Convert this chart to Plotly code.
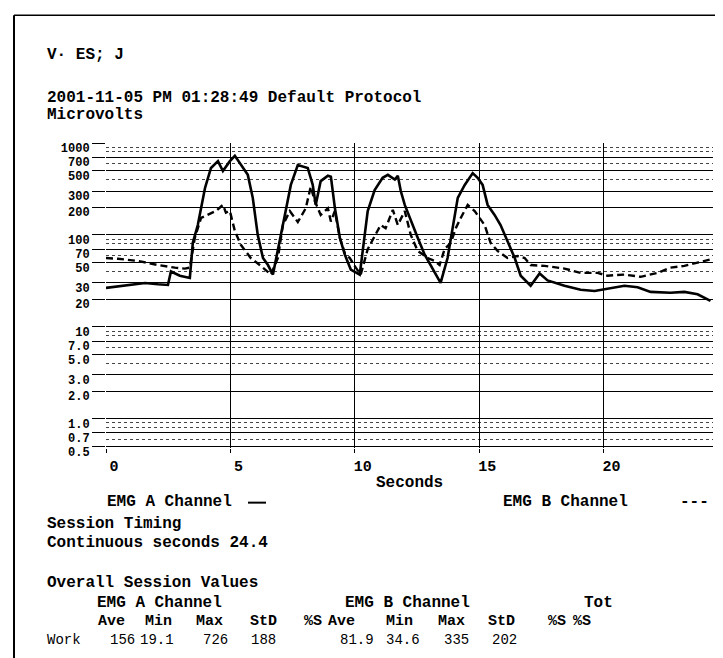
import plotly.graph_objects as go

# EMG A channel (solid), seconds / microvolts
t_a = [0.0, 0.68, 1.57, 2.09, 2.49, 2.61, 2.97, 3.37, 3.49, 3.69, 3.98, 4.22, 4.50, 4.70, 4.98,
       5.18, 5.42, 5.70, 5.90, 6.10, 6.31, 6.51, 6.71, 6.91, 7.19, 7.43, 7.71, 8.11, 8.31, 8.43,
       8.63, 8.92, 9.04, 9.20, 9.40, 9.60, 9.84, 10.20, 10.32, 10.52, 10.80, 11.12, 11.33, 11.61,
       11.73, 11.85, 12.01, 12.25, 12.53, 12.81, 13.05, 13.45, 13.73, 13.94, 14.14, 14.42, 14.74,
       14.94, 15.14, 15.34, 15.62, 15.86, 16.14, 16.43, 16.67, 17.07, 17.43, 17.75, 18.43, 19.08,
       19.64, 20.16, 20.84, 21.37, 21.89, 22.69, 23.25, 23.78, 24.30]
emg_a = [26.5, 28, 30, 29, 28.5, 40, 36, 34, 82, 128, 324, 535, 635, 495, 635,
         726, 575, 450, 253, 100, 56, 47, 37, 67, 165, 350, 575, 535, 350, 212,
         385, 440, 430, 197, 93, 61, 42, 37, 67, 182, 308, 418, 450, 400,
         440, 300, 212, 142, 93, 61, 47, 30, 56, 128, 253, 350, 470,
         418, 350, 212, 165, 128, 85, 56, 36, 28, 38, 32, 28, 25.3,
         24.5, 26, 28, 27, 24, 23.5, 24, 22.6, 19.1]

# EMG B channel (dashed)
t_b = [0.0, 0.48, 1.29, 2.09, 2.77, 3.17, 3.37, 3.57, 3.82, 4.10, 4.42, 4.70, 4.82, 4.98, 5.18,
       5.42, 5.82, 6.22, 6.63, 6.91, 7.11, 7.39, 7.71, 8.03, 8.23, 8.39, 8.63, 8.92, 9.04, 9.20,
       9.40, 9.60, 9.80, 10.04, 10.24, 10.52, 10.84, 11.04, 11.24, 11.53, 11.73, 12.01, 12.25,
       12.53, 12.93, 13.21, 13.41, 13.61, 13.86, 14.06, 14.26, 14.54, 14.82, 15.02, 15.22, 15.46,
       15.74, 16.14, 16.55, 16.83, 17.07, 17.63, 18.43, 19.08, 19.76, 20.16, 20.84, 21.49, 22.17,
       22.69, 23.25, 23.78, 24.30]
emg_b = [56, 55, 52, 47, 44, 43, 44, 93, 153, 165, 182, 212, 175, 182, 110,
         78, 56, 46, 37, 56, 128, 182, 138, 195, 335, 234, 165, 195, 140, 182,
         93, 63, 56, 44, 37, 70, 100, 128, 118, 187, 128, 182, 100,
         67, 56, 52, 47, 70, 82, 118, 153, 212, 182, 153, 128, 82,
         67, 56, 59, 56, 47, 46, 43, 38.6, 38.6, 36, 37, 35, 38.6,
         44, 46, 50, 54]

x_ticks = [0, 5, 10, 15, 20]
y_label_vals = [0.5, 0.7, 1, 2, 3, 5, 7, 10, 20, 30, 50, 70, 100, 200, 300, 500, 700, 1000]
y_label_text = ["0.5", "0.7", "1.0", "2.0", "3.0", "5.0", "7.0", "10", "20", "30", "50", "70",
                "100", "200", "300", "500", "700", "1000"]
y_minor_vals = [0.6, 0.8, 0.9, 4, 6, 8, 9, 40, 60, 80, 90, 400, 600, 800, 900]

header_lines = ["V\u00b7 ES; J", "2001-11-05 PM 01:28:49 Default Protocol", "Microvolts"]
session_lines = ["Session Timing", "Continuous seconds 24.4", "Overall Session Values"]
table_groups = ["EMG A Channel", "EMG B Channel", "Tot"]
table_cols = ["Ave", "Min", "Max", "StD", "%S", "Ave", "Min", "Max", "StD", "%S", "%S"]
work_row = ["Work", "156", "19.1", "726", "188", "81.9", "34.6", "335", "202"]

W, H = 723, 658
L, R, T, B = 98, 705, 135, 440.3
FONT = "Liberation Mono"


def px(x, y):
  """pixel position -> paper coords"""
  return (x - L) / (R - L), (B - y) / (B - T)


fig = go.Figure()
fig.add_trace(go.Scatter(x=t_a, y=emg_a, mode='lines', name='EMG A Channel',
                         line={'color': 'black', 'width': 2.6}))
fig.add_trace(go.Scatter(x=t_b, y=emg_b, mode='lines', name='EMG B Channel',
                         line={'color': 'black', 'width': 2.4, 'dash': '7px,4px'}))

ann = []


def text(s, x, y, size=16, bold=True, anchor='left'):
  xp, yp = px(x, y)
  ann.append(dict(text=f"<b>{s}</b>" if bold else s, x=xp, y=yp, xref='paper', yref='paper',
                  xanchor=anchor, yanchor='middle', showarrow=False,
                  font=dict(family=FONT, size=size, color='black')))


text(header_lines[0], 37, 47)
text(header_lines[1], 37, 90)
text(header_lines[2], 37, 107)
text("Seconds", 401, 475, anchor='center')
text("EMG A Channel", 97, 494)
text("EMG B Channel", 493, 494)
text("---", 670, 494)
text(session_lines[0], 37, 516)
text(session_lines[1], 37, 535)
text(session_lines[2], 37, 575)
for s, x in zip(table_groups, [87, 335, 574]):
  text(s, x, 595)
for s, x in zip(table_cols, [88, 135, 186, 240, 294, 318, 376, 428, 478, 538, 563]):
  text(s, x, 614, size=15)
for s, x in zip(work_row, [37, 100, 130, 193, 241, 330, 376, 434, 482]):
  text(s, x, 632, size=14, bold=False)

shapes = []
x0, y0 = px(240, 495)
x1, _ = px(258, 495)
shapes.append(dict(type='line', xref='paper', yref='paper', x0=x0, x1=x1, y0=y0, y1=y0,
                   line=dict(color='black', width=2)))
# page border, left and top
bx, by0 = px(6, 7)
_, by1 = px(6, 658)
bx1, _ = px(723, 7)
shapes.append(dict(type='line', xref='paper', yref='paper', x0=bx, x1=bx, y0=by0, y1=by1,
                   line=dict(color='black', width=2)))
shapes.append(dict(type='line', xref='paper', yref='paper', x0=bx, x1=bx1, y0=by0, y1=by0,
                   line=dict(color='black', width=1.5)))

fig.update_layout(
  width=W, height=H,
  margin=dict(l=L, r=W - R, t=T, b=H - B),
  paper_bgcolor='white', plot_bgcolor='white',
  showlegend=False,
  annotations=ann, shapes=shapes,
  xaxis=dict(range=[0, 24.4], tickvals=x_ticks, ticktext=[str(v) for v in x_ticks],
             showgrid=True, gridcolor='black', gridwidth=1, zeroline=False,
             ticks='outside', ticklen=4, tickcolor='black', ticklabelshift=8,
             tickfont=dict(family=FONT, size=15, color='black', weight='bold')),
  yaxis=dict(type='log', range=[-0.3188, 3.0], tickvals=y_label_vals, ticktext=y_label_text,
             showgrid=True, gridcolor='black', gridwidth=1, zeroline=False,
             ticks='outside', ticklen=13, tickcolor='black', ticklabelshift=5, ticklabelstandoff=0,
             tickfont=dict(family=FONT, size=12, color='black', weight='bold'),
             minor=dict(tickvals=y_minor_vals, showgrid=True, gridcolor='#444',
                        griddash='dot', gridwidth=1)),
)

fig.write_html("out.html")
